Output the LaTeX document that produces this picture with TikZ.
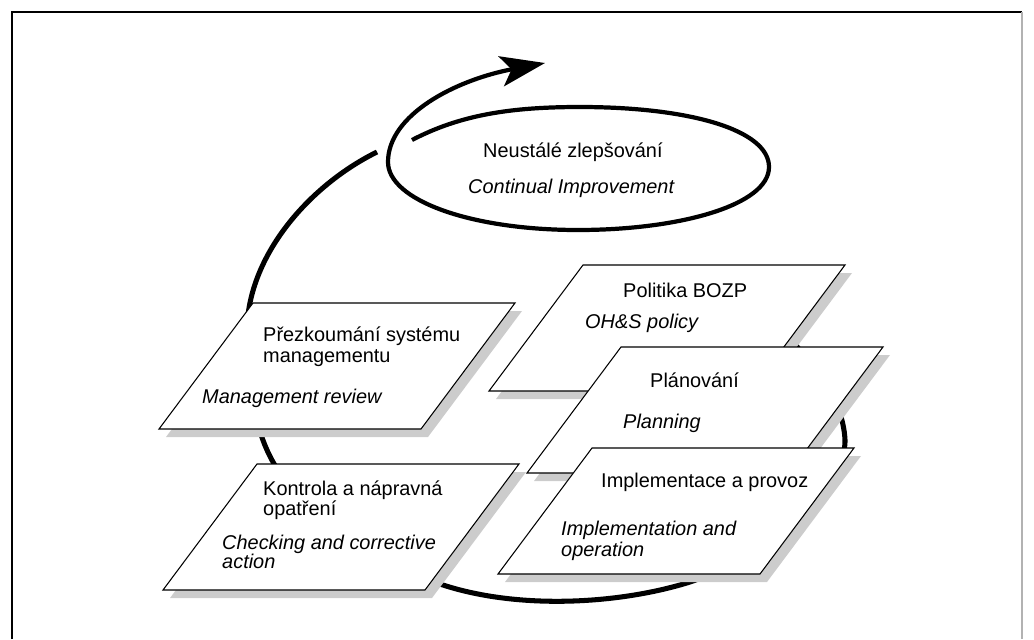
\documentclass[tikz,border=0pt]{standalone}
\usepackage{fontspec}
\setmainfont{Liberation Sans}
\usetikzlibrary{arrows.meta}

\begin{document}
\begin{tikzpicture}[x=0.03cm, y=-0.03cm,
		panel/.style={draw, fill=white, line width=0.9pt},
		panelshadow/.style={fill=gray!40},
		loopline/.style={line width=4.3pt},
		cz/.style={anchor=base west, inner sep=0pt, font=\fontsize{17}{18}\selectfont},
		en/.style={cz, font=\fontsize{17}{18}\selectfont\itshape}]
			\useasboundingbox (0,0) rectangle (1034,639);
			\draw [line width=1.5pt] (12,639)--(12,12)--(1022,12);
			\draw [line width=1.2pt, gray!60] (1022,12)--(1022,639);
			% the big loop, most of it lies under the panels
			\draw [loopline] (770,322) .. controls (805,350) and (843,395) .. (845,440)
				.. controls (847,480) and (770,555) .. (690,582)
				.. controls (620,604) and (520,610) .. (443,585)
				.. controls (360,560) and (300,510) .. (273,462)
				.. controls (255,430) and (247,385) .. (247,330)
				.. controls (248,255) and (310,185) .. (377,152);
			% continual improvement
			\draw [line width=3.6pt, -{Stealth[length=38pt,width=26pt,inset=9pt]}] (412,140)
				.. controls (460,115) and (510,107) .. (580,107)
				.. controls (690,107) and (769,130) .. (769,167)
				.. controls (769,205) and (680,230) .. (578,230)
				.. controls (470,230) and (388,200) .. (388,162)
				.. controls (388,115) and (455,80) .. (545,63);
			\node [cz] (ci1) at (483,157) {Neustálé zlepšování};
			\node [en] (ci2) at (468,193) {Continual Improvement};
			% panels
			\foreach \nm/\px/\py in {mgmt/253/303, chk/257/464, pol/583/265, plan/621/347, impl/592/448} {
				\fill [panelshadow] (\px+7,\py+8)--++(262,0)--++(-94,126)--++(-262,0)--cycle;
				\draw [panel] (\px,\py) coordinate (\nm)--++(262,0)--++(-94,126)--++(-262,0)--cycle;
			}
			\node [cz] (mg1) at (263,341) {Přezkoumání systému};
			\node [cz] (mg2) at (263,362) {managementu};
			\node [en] (mg3) at (202,403) {Management review};
			\node [cz] (ch1) at (263,495) {Kontrola a nápravná};
			\node [cz] (ch2) at (263,515) {opatření};
			\node [en] (ch3) at (222,549) {Checking and corrective};
			\node [en] (ch4) at (222,568) {action};
			\node [cz] (po1) at (623,297) {Politika BOZP};
			\node [en] (po2) at (585,328) {OH\&S policy};
			\node [cz] (pl1) at (650,387) {Plánování};
			\node [en] (pl2) at (623,428) {Planning};
			\node [cz] (im1) at (601,487) {Implementace a provoz};
			\node [en] (im2) at (561,535) {Implementation and};
			\node [en] (im3) at (561,556) {operation};
		\end{tikzpicture}
\end{document}
